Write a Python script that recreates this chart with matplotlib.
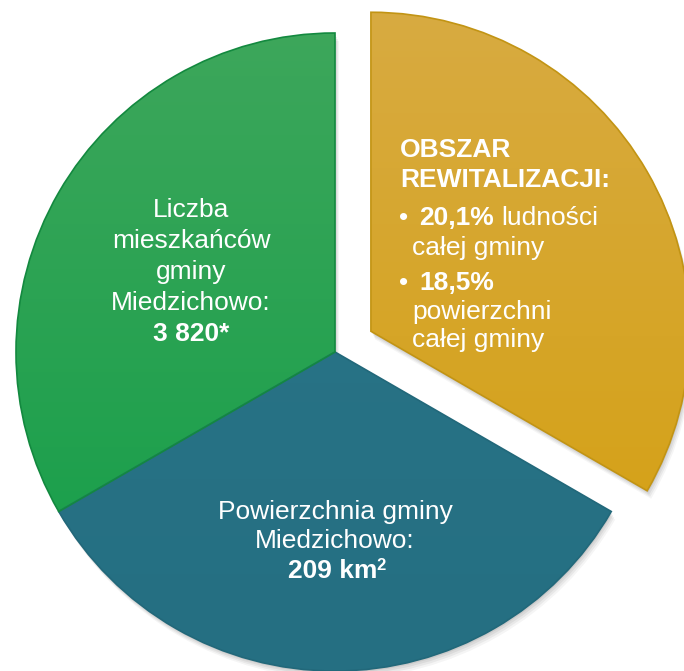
import numpy as np
import matplotlib.pyplot as plt
from matplotlib.colors import LinearSegmentedColormap

plt.rcParams['font.family'] = ['Liberation Sans', 'DejaVu Sans']

# three equal parts of the chart (orange, teal, green)
shares = [1, 1, 1]
explode = [0.13, 0, 0]
top_colors = ['#d8ab42', '#2a7689', '#3fa75c']
bottom_colors = ['#d49f0c', '#256f82', '#129e48']
edge_colors = ['#c29414', '#22687a', '#13893f']

W, H = 684, 671
cx, cy, R = 335, H - 352, 319
expl = [e * R for e in explode]   # pie() takes explode in data units

fig = plt.figure(figsize=(W / 100, H / 100), dpi=100)
ax = fig.add_axes([0, 0, 1, 1])

# soft shadow
for k, a in zip([8, 6, 4, 2], [0.04, 0.05, 0.06, 0.07]):
    ax.pie(shares, explode=expl, startangle=90, counterclock=False,
           radius=R, center=(cx + k * 0.5, cy - k), frame=True,
           colors=['#000000'] * 3, wedgeprops=dict(linewidth=0, alpha=a))

wedges, _ = ax.pie(shares, explode=expl, startangle=90, counterclock=False,
                   radius=R, center=(cx, cy), frame=True,
                   colors=bottom_colors, wedgeprops=dict(linewidth=1.2))
ax.set_xlim(0, W)
ax.set_ylim(0, H)
ax.set_aspect('equal')
ax.axis('off')

grad = np.linspace(0, 1, 256).reshape(-1, 1)
for w, c0, c1, ec in zip(wedges, top_colors, bottom_colors, edge_colors):
    w.set_edgecolor(ec)
    cmap = LinearSegmentedColormap.from_list('g', [c1, c0])
    im = ax.imshow(grad, cmap=cmap, origin='lower', aspect='auto',
                   extent=[0, W, 0, H], zorder=w.get_zorder() + 0.1)
    im.set_clip_path(w)
    w.set_zorder(w.get_zorder() + 0.2)
    w.set_facecolor('none')
ax.set_xlim(0, W)
ax.set_ylim(0, H)

fs = 19
white = 'white'


def label(x, y, t, bold=False, ha='left', size=fs):
    ax.text(x, H - y, t, color=white, fontsize=size,
            fontweight='bold' if bold else 'normal',
            ha=ha, va='center', zorder=10)


# green wedge
for i, t in enumerate(['Liczba', 'mieszkańców', 'gminy', 'Miedzichowo:']):
    label(191, 210 + i * 31, t, ha='center')
label(191, 334, '3 820*', bold=True, ha='center')

# orange wedge
label(400, 150, 'OBSZAR', bold=True)
label(400, 180, 'REWITALIZACJI:', bold=True)
label(399, 218, '•')
label(419, 218, '20,1%', bold=True)
label(501, 218, 'ludności')
label(412, 248, 'całej gminy')
label(399, 283, '•')
label(419, 283, '18,5%', bold=True)
label(412, 312, 'powierzchni')
label(412, 340, 'całej gminy')

# teal wedge
label(335, 512, 'Powierzchnia gminy', ha='center')
label(335, 541, 'Miedzichowo:', ha='center')
label(377, 571, '209 km', bold=True, ha='right')
label(376, 565, '2', bold=True, size=12)

fig.savefig('out.png', dpi=100)
